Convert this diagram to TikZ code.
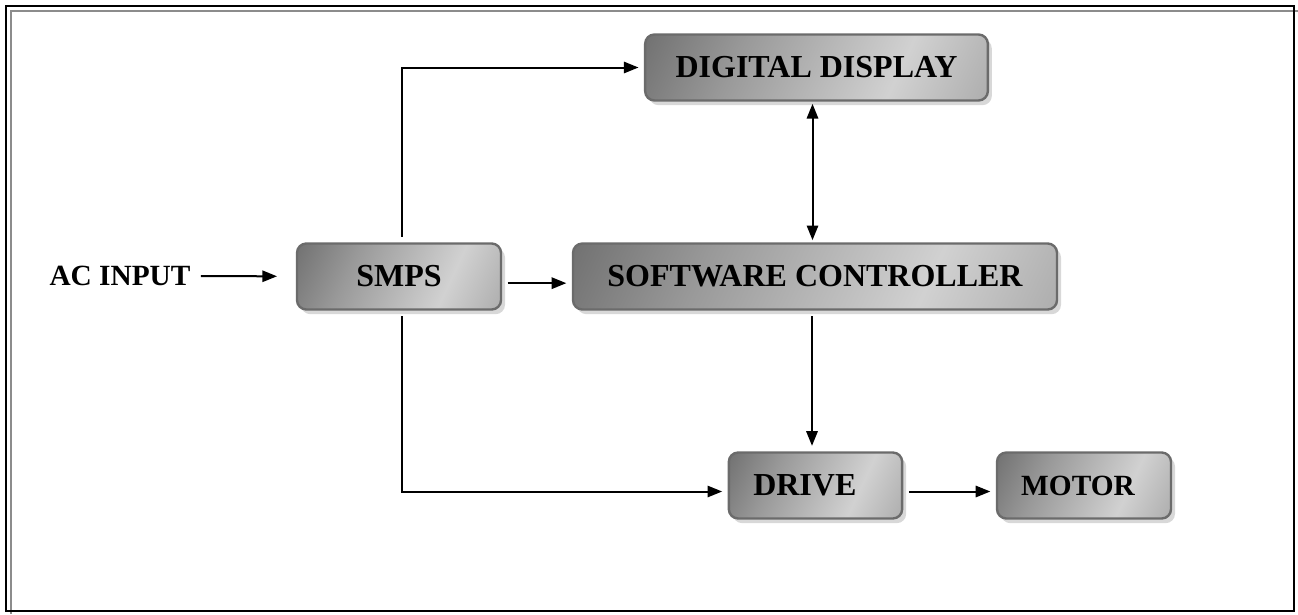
\documentclass[tikz,border=0pt]{standalone}
\usepackage{fontspec}
\setmainfont{Liberation Serif}
\usetikzlibrary{arrows.meta}
\usetikzlibrary{shadows}

\pgfdeclarehorizontalshading{boxshade}{100bp}{color(0bp)=(black!70); color(35bp)=(black!40); color(65bp)=(black!18); color(100bp)=(black!45)}

\begin{document}
\begin{tikzpicture}[x=0.75pt, y=-0.75pt,
    box/.style={rectangle, rounded corners=7pt, draw=black!58, line width=1.8pt,
        shade, shading=boxshade, shading angle=-25,
        drop shadow={shadow xshift=3pt, shadow yshift=-3.5pt, fill=black!30},
        font=\fontsize{24}{28}\selectfont\bfseries, text=black,
        minimum height=49.5pt, outer sep=5pt},
    arr/.style={line width=1.5pt, -{Triangle[length=11pt, width=8.5pt]}},
    dblarr/.style={line width=1.5pt, {Triangle[length=11pt, width=8.5pt]}-{Triangle[length=11pt, width=8.5pt]}}]

    \useasboundingbox (0,0) rectangle (1298,614);

    % page border
    \draw[black!45, line width=1.5pt] (10,11) -- (1298,11);
    \draw[black!45, line width=1.5pt] (10.5,10) -- (10.5,614);
    \draw[line width=1.6pt] (6,6) rectangle (1294,611);

    % blocks
    \node[box, minimum width=257pt] (dd) at (816.5,67.5) {DIGITAL DISPLAY};
    \node[box, minimum width=153pt] (smps) at (399,276.5) {SMPS};
    \node[box, minimum width=363pt] (sc) at (815,276.5) {SOFTWARE CONTROLLER};
    \node[box, minimum width=130pt] (drive) at (815.5,485.5) {\kern-16pt DRIVE};
    \node[box, minimum width=130.5pt, font=\fontsize{22}{26}\selectfont\bfseries] (motor) at (1084,485.5) {\kern-9pt MOTOR};

    \node[font=\fontsize{22}{26}\selectfont\bfseries, inner sep=0pt] (ac) at (120,276) {AC INPUT};

    % connections
    \draw[arr, shorten <=7.5pt, shorten >=10pt] (ac) -- (smps);
    \draw[arr] ([yshift=-5pt]smps.east) -- ([yshift=-5pt]sc.west);
    \draw[arr] (smps.north) ++(3,0) |- (dd.west);
    \draw[dblarr, shorten <=-2.5pt, shorten >=-2.5pt] (sc.north -| dd.south) ++(-4,0) coordinate (mid) -- (mid |- dd.south);
    \draw[arr] (sc.south) ++(-3,0) coordinate (low) -- (low |- drive.north);
    \draw[arr] (smps.south) ++(3,0) |- ([yshift=-4.5pt]drive.west);
    \draw[arr] ([yshift=-4.5pt]drive.east) -- ([yshift=-4.5pt]motor.west);

\end{tikzpicture}
\end{document}
